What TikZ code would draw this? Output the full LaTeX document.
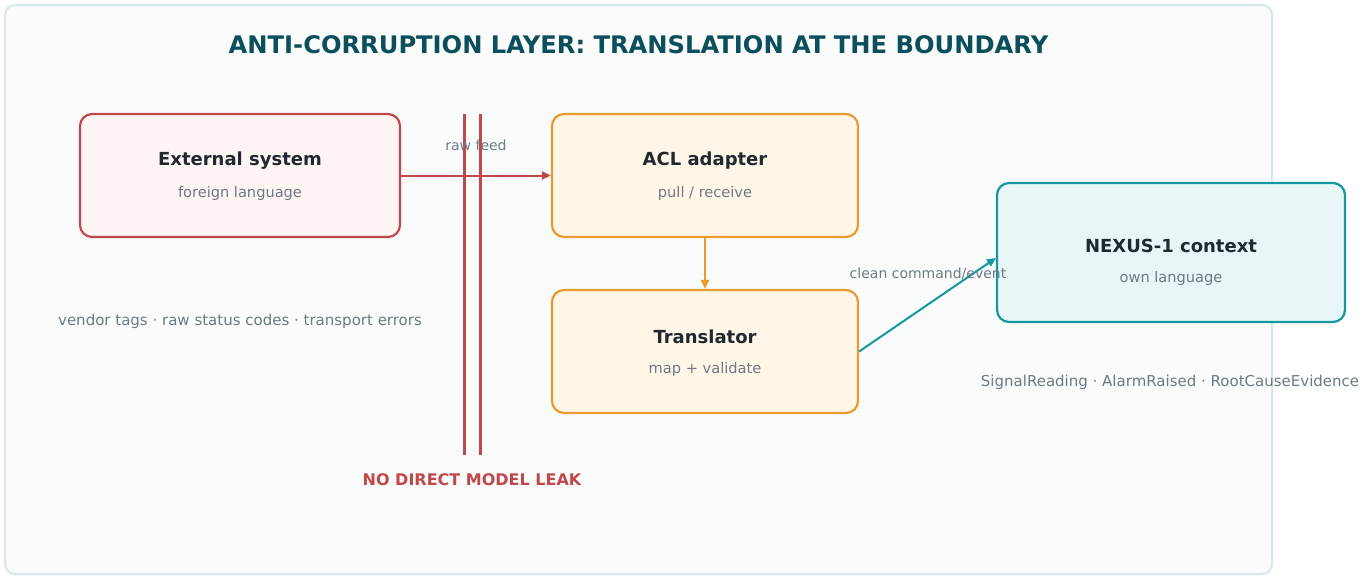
\documentclass[tikz,border=0pt]{standalone}
\usepackage{fontspec}
\setmainfont{DejaVu Sans}
\usetikzlibrary{arrows.meta}
\definecolor{panelfill}{HTML}{FAFCFC}
\definecolor{paneldraw}{HTML}{D5E8EC}
\definecolor{titlec}{HTML}{0B4F5C}
\definecolor{darktext}{HTML}{1F2A30}
\definecolor{greytext}{HTML}{6B7B84}
\definecolor{redc}{HTML}{C0474A}
\definecolor{redfill}{HTML}{FFF4F4}
\definecolor{orangec}{HTML}{E89C2A}
\definecolor{orangefill}{HTML}{FFF6E8}
\definecolor{tealc}{HTML}{1497A1}
\definecolor{tealfill}{HTML}{E8F6F7}
\tikzset{
  boxbase/.style={rounded corners=12pt, line width=2.2pt, inner sep=0pt},
  redbox/.style={boxbase, draw=redc, fill=redfill},
  orangebox/.style={boxbase, draw=orangec, fill=orangefill},
  tealbox/.style={boxbase, draw=tealc, fill=tealfill},
  boxtitle/.style={font=\fontsize{18}{21}\selectfont\bfseries, text=darktext, inner sep=0pt},
  boxsub/.style={font=\fontsize{14.6}{17}\selectfont, text=greytext, inner sep=0pt},
  note/.style={font=\fontsize{15}{18}\selectfont, text=greytext, inner sep=0pt},
  small/.style={font=\fontsize{14}{17}\selectfont, text=greytext, inner sep=0pt},
  conn/.style={line width=2pt, -{Triangle[length=9pt,width=8pt]}},
}
\begin{document}
\begin{tikzpicture}[x=1pt,y=-1pt]
\useasboundingbox (0,0) rectangle (1362,576);
\fill[white] (0,0) rectangle (1362,576);
\draw[fill=panelfill, draw=paneldraw, line width=2pt, rounded corners=10pt] (5,5) rectangle (1272,574);

\node[font=\fontsize{24.2}{28}\selectfont\bfseries, text=titlec, inner sep=0pt] (title) at (638.5,45) {ANTI-CORRUPTION LAYER: TRANSLATION AT THE BOUNDARY};

% boxes
\node[redbox, minimum width=320pt, minimum height=123pt] (ext) at (240,175.5) {};
\node[boxtitle] (extT) at (240,161) {External system};
\node[boxsub] (extS) at (240,193.5) {foreign language};

\node[orangebox, minimum width=306pt, minimum height=123pt] (acl) at (705,175.5) {};
\node[boxtitle] (aclT) at (705,161) {ACL adapter};
\node[boxsub] (aclS) at (705,193.5) {pull / receive};

\node[orangebox, minimum width=306pt, minimum height=123pt] (tr) at (705,351.5) {};
\node[boxtitle] (trT) at (705,337) {Translator};
\node[boxsub] (trS) at (705,369.5) {map + validate};

\node[tealbox, minimum width=348pt, minimum height=139pt] (nex) at (1171,252.5) {};
\node[boxtitle] (nexT) at (1171,246) {NEXUS-1 context};
\node[boxsub] (nexS) at (1171,278.5) {own language};

% boundary lines
\coordinate (b1t) at (464,114);
\coordinate (b1b) at (464,455);
\coordinate (b2t) at (480,114);
\coordinate (b2b) at (480,455);
\draw[redc, line width=3pt] (b1t) -- (b1b);
\draw[redc, line width=3pt] (b2t) -- (b2b);

% connectors
\draw[conn, redc] (ext.east) -- (acl.west);
\draw[conn, orangec] (acl.south) -- (tr.south |- tr.north);
\draw[conn, tealc] (tr.east) -- (nex.west |- 0,258);

% labels
\node[small] (raw) at (476,145) {raw feed};
\node[small] (clean) at (928,274) {clean command/event};
\node[note] (vend) at (240,321) {vendor tags · raw status codes · transport errors};
\node[note] (sig) at (1170,382) {SignalReading · AlarmRaised · RootCauseEvidence};
\node[font=\fontsize{16}{19}\selectfont\bfseries, text=redc, inner sep=0pt] (leak) at (472,480) {NO DIRECT MODEL LEAK};
\end{tikzpicture}
\end{document}
